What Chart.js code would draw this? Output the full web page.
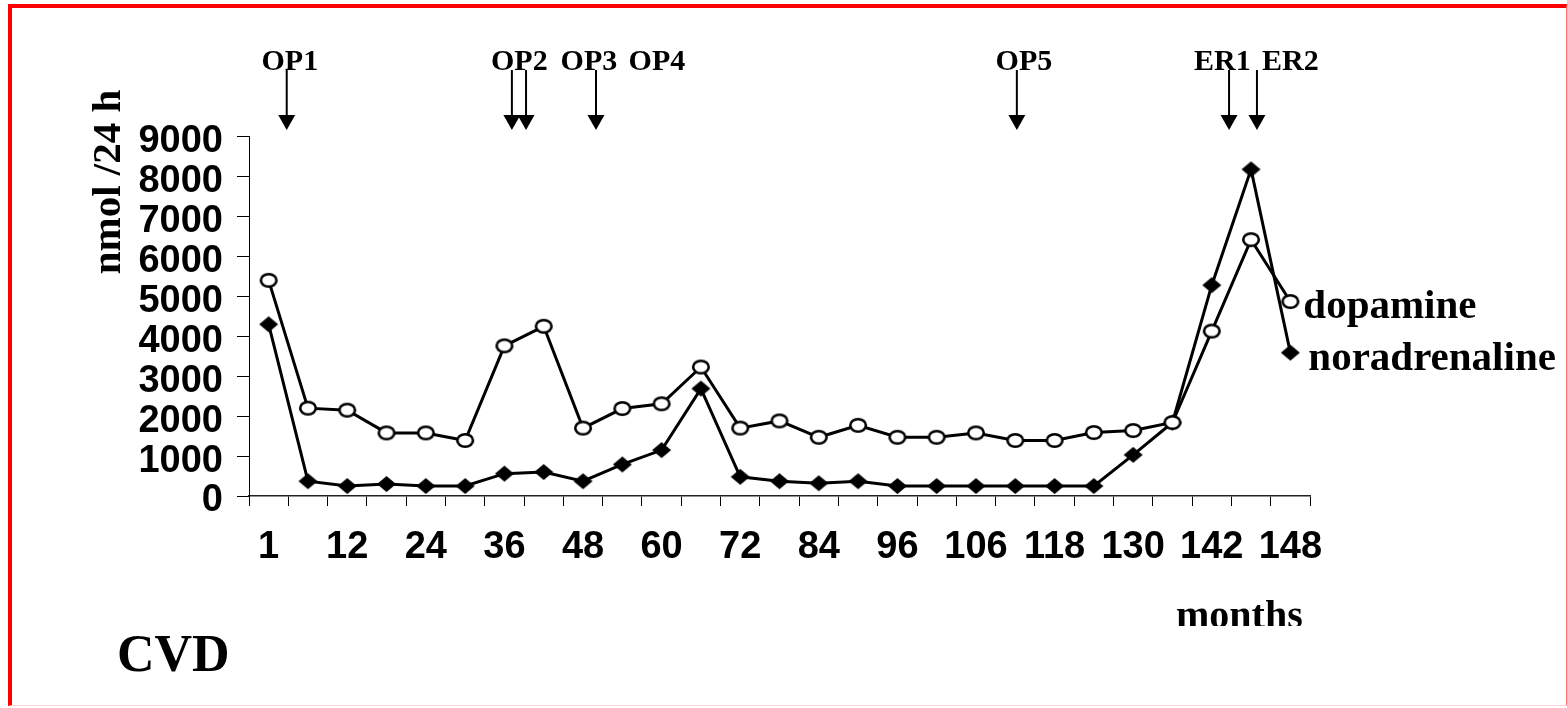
<!DOCTYPE html>
<html>
<head>
<meta charset="utf-8">
<title>CVD - dopamine / noradrenaline</title>
<script src="https://cdn.jsdelivr.net/npm/chart.js@4.4.1/dist/chart.umd.min.js"></script>
<style>
  html, body { margin: 0; padding: 0; background: #fff; }
  #wrap { position: relative; width: 1567px; height: 708px; overflow: hidden; }
  #frame {
    position: absolute; left: 8px; top: 4px; width: 1559px; height: 702px;
    box-sizing: border-box; pointer-events: none;
    border-top: 4px solid #f00; border-left: 4px solid #f00;
    border-right: 1px solid #f77; border-bottom: 1px solid #f6d6d6;
  }
  canvas { display: block; }
</style>
</head>
<body>
<div id="wrap">
  <canvas id="chart" width="1567" height="708"></canvas>
  <div id="frame"></div>
</div>
<script>
// ── Data ─────────────────────────────────────
// every second category carries a label in the original
var monthLabels = ["1", "", "12", "", "24", "", "36", "", "48", "", "60", "", "72", "",
  "84", "", "96", "", "106", "", "118", "", "130", "", "142", "", "148"];

var dopamine = [5400, 2200, 2150, 1580, 1580, 1390, 3760, 4250, 1700, 2190, 2310, 3230, 1700, 1880,
  1470, 1770, 1470, 1470, 1580, 1390, 1390, 1590, 1640, 1840, 4130, 6420, 4870];

var noradrenaline = [4300, 370, 250, 300, 250, 250, 560, 600, 370, 790, 1150, 2690, 480, 370,
  320, 370, 250, 250, 250, 250, 250, 250, 1030, 1840, 5280, 8180, 3590];

// interventions, positions in category units
var arrowAt = [0.46, 6.19, 6.55, 8.33, 19.04, 24.44, 25.15];
var eventLabels = ["OP1", "OP2", "OP3", "OP4", "OP5", "ER1", "ER2"];
var eventLabelAt = [0.54, 6.38, 8.15, 9.88, 19.22, 24.27, 26.0];

var SANS = '"Liberation Sans", Arial, sans-serif';
var SERIF = '"Liberation Serif", "Times New Roman", serif';

// ── Marker images (slightly wide, like the original) ──
function makeCircle() {
  var c = document.createElement("canvas");
  c.width = 22; c.height = 19;
  var g = c.getContext("2d");
  g.beginPath();
  g.ellipse(11, 9.5, 7.8, 6.3, 0, 0, Math.PI * 2);
  g.fillStyle = "#fff"; g.fill();
  g.lineWidth = 2.6; g.strokeStyle = "#000"; g.stroke();
  return c;
}
function makeDiamond() {
  var c = document.createElement("canvas");
  c.width = 21; c.height = 18;
  var g = c.getContext("2d");
  g.beginPath();
  g.moveTo(10.5, 1); g.lineTo(20, 9); g.lineTo(10.5, 17); g.lineTo(1, 9);
  g.closePath();
  g.fillStyle = "#000"; g.fill();
  return c;
}

// ── Extra drawing: arrows, labels, titles ──
var annotate = {
  id: "annotate",
  afterDraw: function (chart) {
    var ctx = chart.ctx;
    var x = chart.scales.x;
    var top = chart.chartArea.top;
    ctx.save();
    ctx.fillStyle = "#000";
    ctx.strokeStyle = "#000";

    arrowAt.forEach(function (v) {
      var px = x.getPixelForValue(v);
      ctx.lineWidth = 2;
      ctx.beginPath();
      ctx.moveTo(px, 70);
      ctx.lineTo(px, top - 20);
      ctx.stroke();
      ctx.beginPath();
      ctx.moveTo(px - 8.5, top - 21.5);
      ctx.lineTo(px + 8.5, top - 21.5);
      ctx.lineTo(px, top - 6.5);
      ctx.closePath();
      ctx.fill();
    });

    ctx.font = "bold 30px " + SERIF;
    ctx.textAlign = "center";
    ctx.textBaseline = "alphabetic";
    eventLabels.forEach(function (t, i) {
      ctx.fillText(t, x.getPixelForValue(eventLabelAt[i]), 70);
    });

    // series names next to the last points
    ctx.font = "bold 41px " + SERIF;
    ctx.textAlign = "left";
    var d = chart.getDatasetMeta(0).data;
    var n = chart.getDatasetMeta(1).data;
    var dl = d[d.length - 1], nl = n[n.length - 1];
    ctx.fillText("dopamine", dl.x + 13, dl.y + 16);
    ctx.fillText("noradrenaline", nl.x + 18, nl.y + 17);

    // y title
    ctx.save();
    ctx.translate(120, 182);
    ctx.rotate(-Math.PI / 2);
    ctx.textAlign = "center";
    ctx.font = "bold 41px " + SERIF;
    ctx.fillText("nmol /24 h", 0, 0);
    ctx.restore();

    // x title, cut off at the bottom as in the original
    ctx.save();
    ctx.beginPath();
    ctx.rect(1100, 560, 300, 66);
    ctx.clip();
    ctx.font = "bold 40px " + SERIF;
    ctx.fillText("months", 1176, 628);
    ctx.restore();

    ctx.font = "bold 52px " + SERIF;
    ctx.fillText("CVD", 117, 671);
    ctx.restore();
  }
};

// ── Chart ────────────────────────────────────
new Chart(document.getElementById("chart"), {
  type: "line",
  data: {
    labels: monthLabels,
    datasets: [
      {
        label: "dopamine",
        data: dopamine,
        borderColor: "#000",
        borderWidth: 3,
        pointStyle: makeCircle(),
        pointRadius: 9,
        tension: 0,
      },
      {
        label: "noradrenaline",
        data: noradrenaline,
        borderColor: "#000",
        borderWidth: 3,
        pointStyle: makeDiamond(),
        pointRadius: 9,
        tension: 0,
      },
    ],
  },
  options: {
    responsive: false,
    animation: false,
    events: [],
    layout: { padding: { top: 136.6, right: 257, bottom: 0, left: 0 } },
    plugins: { legend: { display: false }, tooltip: { enabled: false } },
    scales: {
      x: {
        offset: true,
        grid: { display: true, drawOnChartArea: false, offset: true, tickLength: 10, color: "#000", lineWidth: 1 },
        border: { color: "#222", width: 1.5 },
        ticks: {
          autoSkip: false,
          maxRotation: 0,
          padding: 19,
          color: "#000",
          font: { family: SANS, size: 38, weight: "bold" },
        },
        afterFit: function (s) { s.height = 212; },
      },
      y: {
        min: 0,
        max: 9000,
        ticks: {
          stepSize: 1000,
          autoSkip: false,
          padding: 14,
          labelOffset: 5,
          color: "#000",
          font: { family: SANS, size: 38, weight: "bold" },
          callback: function (v) { return String(v); },
        },
        grid: { drawOnChartArea: false, tickLength: 12, color: "#000", lineWidth: 1 },
        border: { color: "#000", width: 1 },
        afterFit: function (s) { s.width = 249; },
      },
    },
  },
  plugins: [annotate],
});
</script>
</body>
</html>
